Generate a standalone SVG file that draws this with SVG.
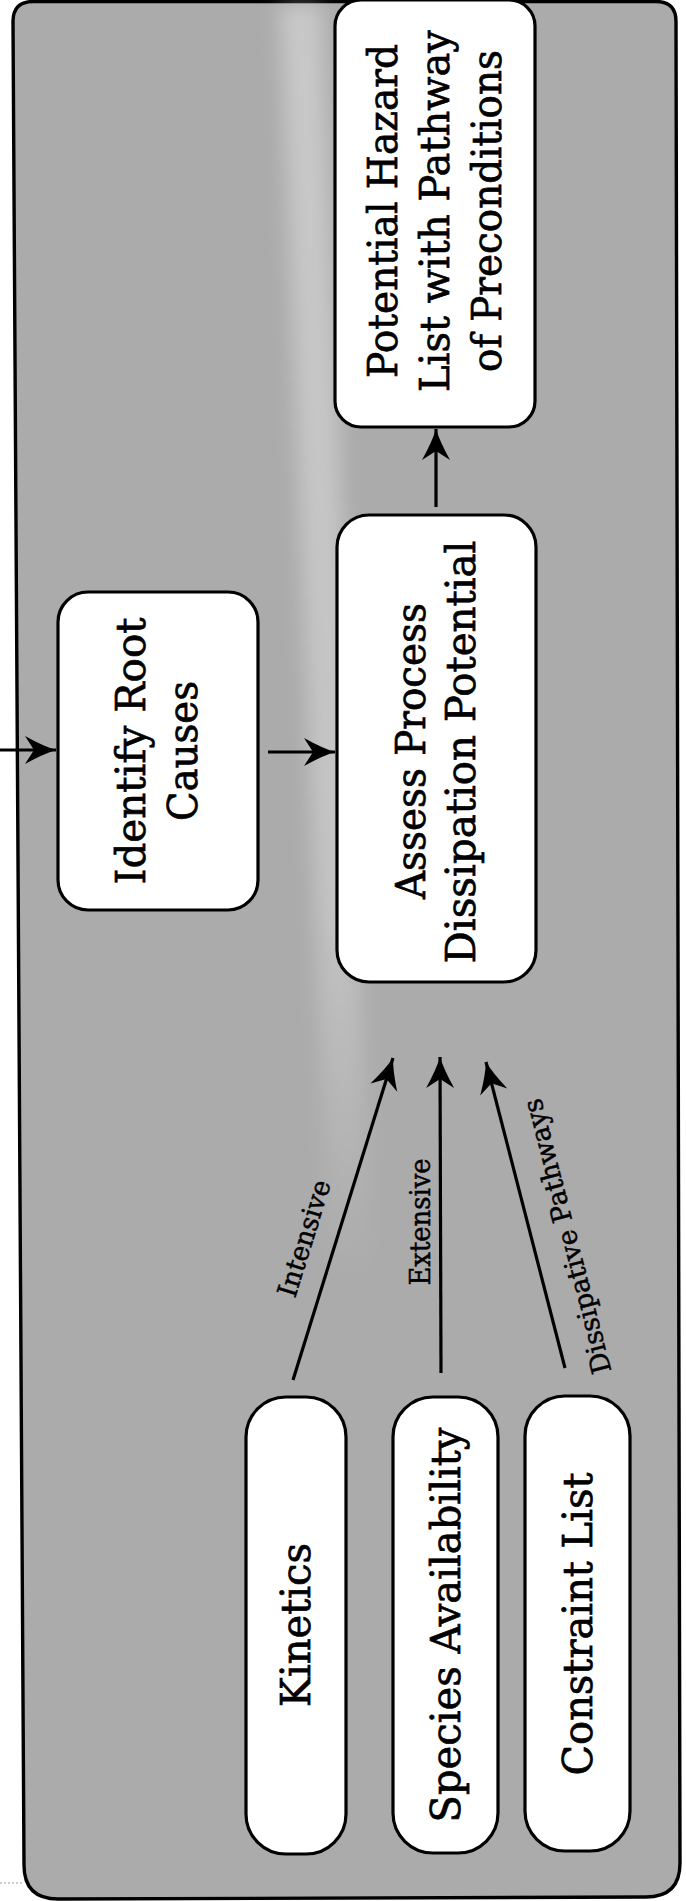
<svg xmlns="http://www.w3.org/2000/svg" width="686" height="1901" viewBox="0 0 686 1901">
  <defs>
    <style>
      .box { fill: #ffffff; stroke: #000000; stroke-width: 3.2; }
      .frame { fill: #ababab; stroke: #000000; stroke-width: 3.4; }
      .edge { fill: none; stroke: #000000; stroke-width: 3.2; }
      .lbl { font-family: "DejaVu Serif", "Liberation Serif", serif; font-size: 41px; fill: #000000; stroke: #000000; stroke-width: 0.7; text-anchor: middle; }
      .elbl { font-family: "DejaVu Serif", "Liberation Serif", serif; font-size: 27px; fill: #000000; stroke: #000000; stroke-width: 0.5; text-anchor: middle; }
    </style>
    <marker id="barb" viewBox="-33 -15 35 30" refX="0" refY="0" markerWidth="35" markerHeight="30" markerUnits="userSpaceOnUse" orient="auto">
      <path d="M0,0 Q-13,-4 -31,-14 L-22,0 L-31,14 Q-13,4 0,0 Z" fill="#000000"/>
    </marker>
    <linearGradient id="fade" x1="0" y1="0" x2="0" y2="1">
      <stop offset="0" stop-color="#ffffff" stop-opacity="0.35"/>
      <stop offset="0.7" stop-color="#ffffff" stop-opacity="0.3"/>
      <stop offset="1" stop-color="#ffffff" stop-opacity="0"/>
    </linearGradient>
    <filter id="soft" x="-100%" y="-10%" width="300%" height="120%">
      <feGaussianBlur stdDeviation="10"/>
    </filter>
  </defs>

  <!-- outer panel -->
  <g id="panel">
    <path class="frame" d="M33,1.5 L656,1.5 Q676,1.5 676,21.5 L680,1863 Q680,1897 646,1897 L58,1899 Q24,1899 24,1865 L13,21.5 Q13,1.5 33,1.5 Z"/>
    <path d="M280,4 L322,4 L372,1280 L330,1280 Z" fill="url(#fade)" filter="url(#soft)"/>
    <line x1="0" y1="1883" x2="22" y2="1883" stroke="#9a9a9a" stroke-width="1" stroke-dasharray="2 2"/>
  </g>

  <!-- connectors -->
  <g id="connectors">
    <line class="edge" x1="0" y1="750" x2="56" y2="750" marker-end="url(#barb)"/>
    <line class="edge" x1="268" y1="752" x2="335" y2="752" marker-end="url(#barb)"/>
    <line class="edge" x1="436" y1="507" x2="436" y2="429" marker-end="url(#barb)"/>
    <line class="edge" x1="293" y1="1380" x2="393" y2="1058" marker-end="url(#barb)"/>
    <line class="edge" x1="441" y1="1373" x2="440" y2="1057" marker-end="url(#barb)"/>
    <line class="edge" x1="565" y1="1368" x2="486" y2="1062" marker-end="url(#barb)"/>
    <text class="elbl" transform="translate(313,1241) rotate(-72.7)" textLength="121" lengthAdjust="spacingAndGlyphs">Intensive</text>
    <text class="elbl" transform="translate(430,1222) rotate(-90)" textLength="127" lengthAdjust="spacingAndGlyphs">Extensive</text>
    <text class="elbl" transform="translate(576,1234) rotate(-104.5)" textLength="283" lengthAdjust="spacingAndGlyphs">Dissipative Pathways</text>
  </g>

  <g id="hazard-list">
    <rect class="box" x="335" y="0" width="200" height="427" rx="26"/>
    <text class="lbl" transform="translate(397,211) rotate(-90)" textLength="334" lengthAdjust="spacingAndGlyphs">Potential Hazard</text>
    <text class="lbl" transform="translate(449,211) rotate(-90)" textLength="362" lengthAdjust="spacingAndGlyphs">List with Pathway</text>
    <text class="lbl" transform="translate(501,211) rotate(-90)" textLength="322" lengthAdjust="spacingAndGlyphs">of Preconditions</text>
  </g>

  <g id="root-causes">
    <rect class="box" x="58" y="592" width="200" height="318" rx="30"/>
    <text class="lbl" transform="translate(145,751) rotate(-90)" textLength="267" lengthAdjust="spacingAndGlyphs">Identify Root</text>
    <text class="lbl" transform="translate(197,751) rotate(-90)" textLength="140" lengthAdjust="spacingAndGlyphs">Causes</text>
  </g>

  <g id="dissipation">
    <rect class="box" x="337" y="515" width="199" height="467" rx="32"/>
    <text class="lbl" transform="translate(425,751) rotate(-90)" textLength="296" lengthAdjust="spacingAndGlyphs">Assess Process</text>
    <text class="lbl" transform="translate(475,752) rotate(-90)" textLength="423" lengthAdjust="spacingAndGlyphs">Dissipation Potential</text>
  </g>

  <g id="kinetics">
    <rect class="box" x="246" y="1397" width="100" height="457" rx="40"/>
    <text class="lbl" transform="translate(310,1625) rotate(-90)" textLength="164" lengthAdjust="spacingAndGlyphs">Kinetics</text>
  </g>

  <g id="species">
    <rect class="box" x="393" y="1397" width="105" height="456" rx="40"/>
    <text class="lbl" transform="translate(460,1625) rotate(-90)" textLength="395" lengthAdjust="spacingAndGlyphs">Species Availability</text>
  </g>

  <g id="constraints">
    <rect class="box" x="525" y="1396" width="105" height="455" rx="40"/>
    <text class="lbl" transform="translate(592,1624) rotate(-90)" textLength="303" lengthAdjust="spacingAndGlyphs">Constraint List</text>
  </g>
</svg>
